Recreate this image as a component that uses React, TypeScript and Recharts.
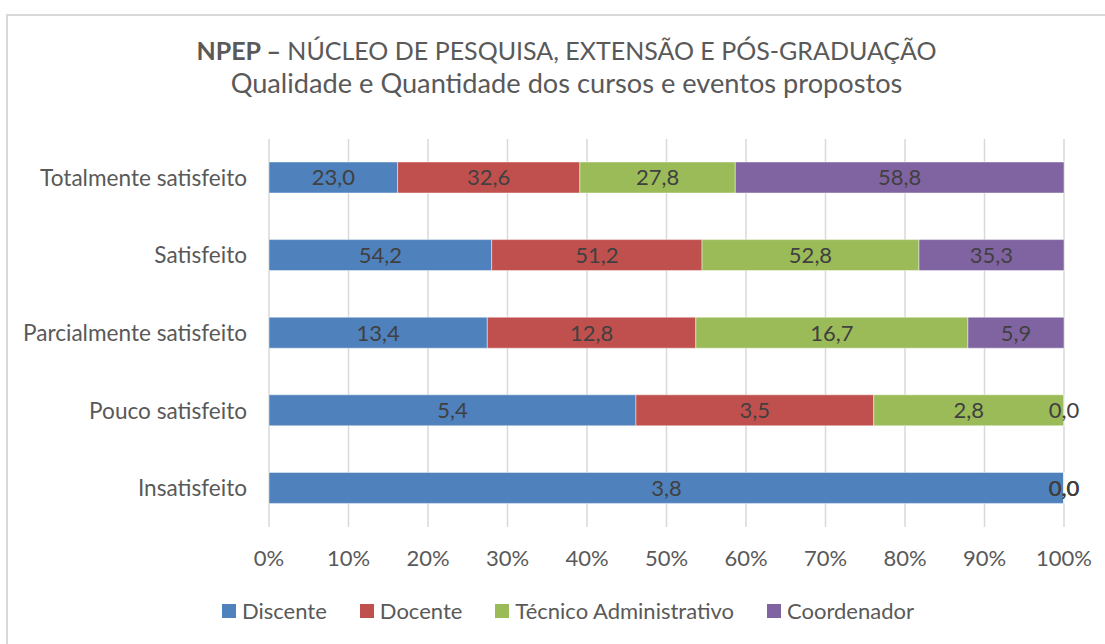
import { Bar, BarChart, CartesianGrid, LabelList, Legend, XAxis, YAxis } from 'recharts'

// NPEP — 100% stacked horizontal bars, one row per satisfaction level.
// Values are the raw percentages per group; stackOffset="expand" does the 100% scaling.

const categories = [
  'Totalmente satisfeito',
  'Satisfeito',
  'Parcialmente satisfeito',
  'Pouco satisfeito',
  'Insatisfeito',
]
const discente = [23.0, 54.2, 13.4, 5.4, 3.8]
const docente = [32.6, 51.2, 12.8, 3.5, 0.0]
const tecnico = [27.8, 52.8, 16.7, 2.8, 0.0]
const coordenador = [58.8, 35.3, 5.9, 0.0, 0.0]
const xTicks = [0, 0.1, 0.2, 0.3, 0.4, 0.5, 0.6, 0.7, 0.8, 0.9, 1]

const series = [
  { key: 'discente', name: 'Discente', color: '#4F81BD' },
  { key: 'docente', name: 'Docente', color: '#C0504D' },
  { key: 'tecnico', name: 'Técnico Administrativo', color: '#9BBB59' },
  { key: 'coordenador', name: 'Coordenador', color: '#8064A2' },
]

const data = categories.map((name, i) => ({
  name,
  discente: discente[i],
  docente: docente[i],
  tecnico: tecnico[i],
  coordenador: coordenador[i],
}))

const FONT = 'Lato, "Open Sans", sans-serif'
const TEXT = '#595959'

const fmtValue = (v: unknown) => (typeof v === 'number' ? v.toFixed(1).replace('.', ',') : String(v))

function LegendContent() {
  return (
    <div
      style={{
        display: 'flex',
        justifyContent: 'center',
        alignItems: 'center',
        gap: 33,
        height: 24,
        fontFamily: FONT,
        fontSize: 22,
        color: TEXT,
      }}
    >
      {series.map((s) => (
        <div key={s.key} style={{ display: 'flex', alignItems: 'center', gap: 6 }}>
          <span style={{ width: 14, height: 14, background: s.color, display: 'inline-block' }} />
          <span style={{ lineHeight: '24px' }}>{s.name}</span>
        </div>
      ))}
    </div>
  )
}

export default function App() {
  return (
    <div
      style={{
        position: 'fixed',
        left: 0,
        top: 0,
        width: 1105,
        height: 644,
        overflow: 'hidden',
        background: '#fff',
      }}
    >
      {/* chart frame — it runs past the right and bottom edges of the picture */}
      <div
        style={{
          position: 'absolute',
          left: 6,
          top: 14,
          width: 1200,
          height: 700,
          border: '2px solid #d9d9d9',
        }}
      />
      <div
        style={{
          position: 'absolute',
          left: 0,
          top: 0,
          width: 1133,
          textAlign: 'center',
          fontFamily: FONT,
          color: TEXT,
        }}
      >
        <div style={{ position: 'absolute', left: 0, right: 0, top: 37, fontSize: 25, lineHeight: '26px' }}>
          <b>NPEP –</b> NÚCLEO DE PESQUISA, EXTENSÃO E PÓS-GRADUAÇÃO
        </div>
        <div style={{ position: 'absolute', left: 0, right: 0, top: 68.5, fontSize: 27.2, lineHeight: '27px' }}>
          Qualidade e Quantidade dos cursos e eventos propostos
        </div>
      </div>
      <div style={{ position: 'absolute', left: 0, top: 0 }}>
        <BarChart
          width={1105}
          height={644}
          data={data}
          layout="vertical"
          stackOffset="expand"
          margin={{ top: 139, right: 41, bottom: 21, left: 0 }}
          style={{ fontFamily: FONT }}
        >
          <CartesianGrid horizontal={false} stroke="#d9d9d9" strokeWidth={1.5} />
          <XAxis
            type="number"
            domain={[0, 1]}
            ticks={xTicks}
            tickFormatter={(v: number) => `${Math.round(v * 100)}%`}
            axisLine={false}
            tickLine={false}
            tickMargin={17}
            height={72}
            tick={{ fill: TEXT, fontSize: 22, fontFamily: FONT }}
          />
          <YAxis
            type="category"
            dataKey="name"
            width={269}
            axisLine={false}
            tickLine={false}
            tickMargin={16}
            tick={{ fill: TEXT, fontSize: 22.6, fontFamily: FONT }}
          />
          {series.map((s) => (
            <Bar
              key={s.key}
              dataKey={s.key}
              name={s.name}
              stackId="a"
              fill={s.color}
              stroke="#ffffff"
              strokeOpacity={0.45}
              strokeWidth={1}
              barSize={31}
              minPointSize={0.01}
              isAnimationActive={false}
            >
              <LabelList
                dataKey={s.key}
                position="center"
                formatter={fmtValue}
                fill="#404040"
                fontSize={22}
                fontFamily={FONT}
              />
            </Bar>
          ))}
          <Legend verticalAlign="bottom" wrapperStyle={{ left: 0, width: 1136 }} content={() => <LegendContent />} />
        </BarChart>
      </div>
    </div>
  )
}
